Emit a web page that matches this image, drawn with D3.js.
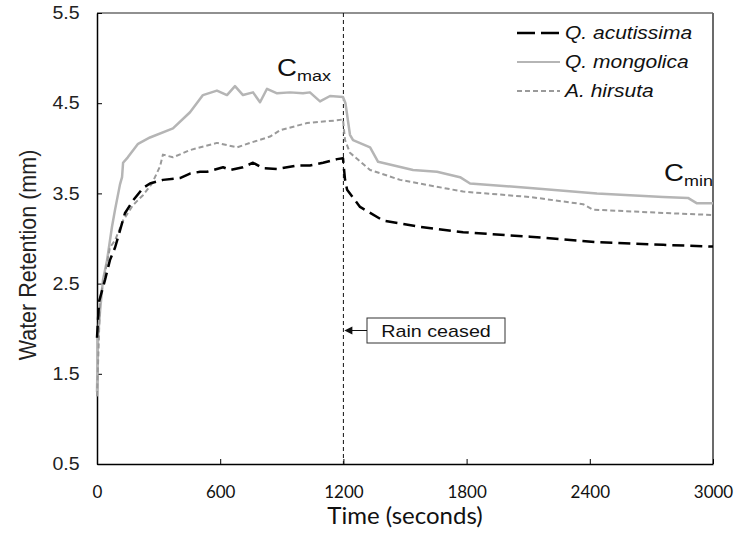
<!DOCTYPE html>
<html>
<head>
<meta charset="utf-8">
<script src="https://cdn.jsdelivr.net/npm/d3@7/dist/d3.min.js"></script>
<style>
  html, body { margin: 0; padding: 0; background: #fff; }
  svg { display: block; }
</style>
</head>
<body>
<svg id="chart" width="736" height="533"></svg>
<script>
// ---- Data (time in seconds, water retention in mm) ----
const seriesNames = ["Q. acutissima", "Q. mongolica", "A. hirsuta"];

const acutissima = [
  [0,1.9],[10,2.3],[39,2.54],[63,2.76],[88,2.9],[112,3.09],[136,3.28],[175,3.42],[224,3.56],
  [258,3.61],[321,3.65],[404,3.67],[453,3.72],[502,3.74],[536,3.74],[614,3.79],[648,3.76],
  [711,3.79],[760,3.84],[808,3.78],[877,3.77],[974,3.81],[1037,3.81],[1101,3.84],[1169,3.88],
  [1198,3.89],[1208,3.65],[1218,3.54],[1281,3.35],[1393,3.2],[1573,3.13],[1783,3.07],
  [2109,3.02],[2435,2.96],[2757,2.93],[3000,2.91]
];

const mongolica = [
  [0,1.3],[5,1.9],[15,2.2],[29,2.54],[49,2.76],[73,3.13],[88,3.32],[112,3.6],[122,3.68],
  [127,3.84],[150,3.9],[200,4.05],[258,4.12],[370,4.22],[453,4.4],[516,4.59],[584,4.64],
  [633,4.59],[672,4.69],[711,4.59],[760,4.62],[794,4.51],[828,4.66],[877,4.61],[940,4.62],
  [1003,4.61],[1037,4.62],[1086,4.52],[1135,4.58],[1198,4.57],[1210,4.5],[1232,4.15],
  [1247,4.09],[1330,4.01],[1369,3.85],[1539,3.76],[1656,3.74],[1768,3.68],[1817,3.61],
  [2109,3.56],[2435,3.5],[2757,3.46],[2878,3.45],[2922,3.39],[3000,3.39]
];

const hirsuta = [
  [0,1.25],[15,2.32],[29,2.5],[63,2.9],[88,2.98],[127,3.2],[175,3.37],[224,3.48],[268,3.61],
  [307,3.8],[321,3.93],[370,3.9],[453,3.98],[584,4.06],[682,4.01],[745,4.06],[843,4.13],
  [891,4.2],[1023,4.28],[1169,4.31],[1198,4.32],[1208,4.09],[1232,3.95],[1330,3.76],
  [1476,3.65],[1783,3.52],[2109,3.46],[2367,3.38],[2416,3.32],[2693,3.29],[3000,3.26]
];

const xTicks = [0, 600, 1200, 1800, 2400, 3000];
const yTicks = [0.5, 1.5, 2.5, 3.5, 4.5, 5.5];
const rainCeasedTime = 1200;

// ---- Layout ----
const svg = d3.select("#chart");
const m = { left: 97, right: 713, top: 13, bottom: 464 };
const ARIAL = "'Liberation Sans', Arial, sans-serif";
const CAL = "Lato, 'Open Sans', sans-serif";
const SX = 1.17; // horizontal stretch seen in the reference's text

const x = d3.scaleLinear().domain([0, 3000]).range([m.left, m.right]);
const y = d3.scaleLinear().domain([0.5, 5.5]).range([m.bottom, m.top]);

// top & right frame (gray)
svg.append("line").attr("x1", m.left).attr("x2", m.right).attr("y1", m.top).attr("y2", m.top)
  .attr("stroke", "#6b6b6b").attr("stroke-width", 1.5);
svg.append("line").attr("x1", m.right).attr("x2", m.right).attr("y1", m.top).attr("y2", m.bottom)
  .attr("stroke", "#6b6b6b").attr("stroke-width", 2);

// axes
const xAxis = d3.axisBottom(x).tickValues(xTicks).tickFormat(d3.format("d"))
  .tickSizeInner(-5).tickSizeOuter(0).tickPadding(22);
const yAxis = d3.axisLeft(y).tickValues(yTicks).tickFormat(d3.format(".1f"))
  .tickSizeInner(-5).tickSizeOuter(0).tickPadding(15.5);

const gx = svg.append("g").attr("transform", `translate(0,${m.bottom})`).call(xAxis);
gx.select(".domain").attr("stroke", "#000").attr("stroke-width", 1.5);
gx.selectAll(".tick line").attr("stroke", "#000");
gx.selectAll("text").attr("font-family", CAL).attr("font-size", 17).attr("fill", "#111");

const gy = svg.append("g").attr("transform", `translate(${m.left},0)`).call(yAxis);
gy.select(".domain").attr("stroke", "#000").attr("stroke-width", 1.5);
gy.selectAll(".tick line").attr("stroke", "#000");
gy.selectAll("text").attr("font-family", ARIAL).attr("font-size", 17.5).attr("fill", "#222")
  .attr("transform", "scale(1.12,1)");

// helper for stretched text
function sText(px, py, str, size, opts = {}) {
  return svg.append("text")
    .attr("transform", `translate(${px},${py}) scale(${opts.sx || SX},1)`)
    .attr("text-anchor", opts.anchor || "start")
    .attr("font-family", opts.family || ARIAL)
    .attr("font-style", opts.italic ? "italic" : "normal")
    .attr("font-size", size).attr("fill", "#111")
    .text(str);
}

// axis titles
svg.append("text")
  .attr("transform", `translate(36,255) rotate(-90) scale(1,1.1)`)
  .attr("text-anchor", "middle")
  .attr("font-family", ARIAL)
  .attr("font-size", 21.5).attr("fill", "#222")
  .text("Water Retention (mm)");

svg.append("text")
  .attr("x", 405).attr("y", 524)
  .attr("text-anchor", "middle")
  .attr("font-family", CAL)
  .attr("font-size", 24).attr("fill", "#111")
  .text("Time (seconds)");

// rain ceased vertical line
svg.append("line")
  .attr("x1", x(rainCeasedTime)).attr("x2", x(rainCeasedTime))
  .attr("y1", m.top).attr("y2", m.bottom)
  .attr("stroke", "#111").attr("stroke-width", 1).attr("stroke-dasharray", "4,3");

// series
const line = d3.line().x(d => x(d[0])).y(d => y(d[1]));
const styles = [
  { data: mongolica, stroke: "#b5b5b5", width: 2.5, dash: null },
  { data: hirsuta, stroke: "#9a9a9a", width: 2, dash: "5,3" },
  { data: acutissima, stroke: "#000", width: 2.5, dash: "12,6" }
];
styles.forEach(s => {
  svg.append("path").datum(s.data).attr("d", line)
    .attr("fill", "none").attr("stroke", s.stroke).attr("stroke-width", s.width)
    .attr("stroke-linejoin", "round")
    .attr("stroke-dasharray", s.dash);
});

// legend
const legendStyles = [
  { stroke: "#000", width: 2.5, dash: "18,6" },
  { stroke: "#b5b5b5", width: 2, dash: null },
  { stroke: "#9a9a9a", width: 1.8, dash: "5,3" }
];
const legendY = [33, 62, 91];
seriesNames.forEach((name, i) => {
  const ly = legendY[i];
  svg.append("line").attr("x1", 517).attr("x2", 560).attr("y1", ly).attr("y2", ly)
    .attr("stroke", legendStyles[i].stroke).attr("stroke-width", legendStyles[i].width)
    .attr("stroke-dasharray", legendStyles[i].dash);
  sText(565, ly + 6, name, 17.5, { italic: true, sx: 1.2 });
});

// Cmax / Cmin labels
function cLabel(px, py, sub) {
  const t = svg.append("text").attr("transform", `translate(${px},${py}) scale(1.2,1)`)
    .attr("font-family", ARIAL).attr("fill", "#111");
  t.append("tspan").attr("font-size", 23).text("C");
  t.append("tspan").attr("font-size", 15).attr("dy", 5).text(sub);
}
cLabel(277, 76, "max");
cLabel(664, 181, "min");

// Rain ceased annotation
const bx = 367, by = 318, bw = 138, bh = 25;
svg.append("rect").attr("x", bx).attr("y", by).attr("width", bw).attr("height", bh)
  .attr("fill", "#fff").attr("stroke", "#333").attr("stroke-width", 1);
sText(bx + bw / 2, by + 19, "Rain ceased", 17, { anchor: "middle", sx: 1.16 });
const ay = by + bh / 2;
svg.append("line").attr("x1", bx).attr("x2", x(rainCeasedTime) + 8).attr("y1", ay).attr("y2", ay)
  .attr("stroke", "#111").attr("stroke-width", 1);
svg.append("path")
  .attr("d", `M${x(rainCeasedTime) + 1},${ay} L${x(rainCeasedTime) + 9},${ay - 4} L${x(rainCeasedTime) + 9},${ay + 4} Z`)
  .attr("fill", "#111");
</script>
</body>
</html>
